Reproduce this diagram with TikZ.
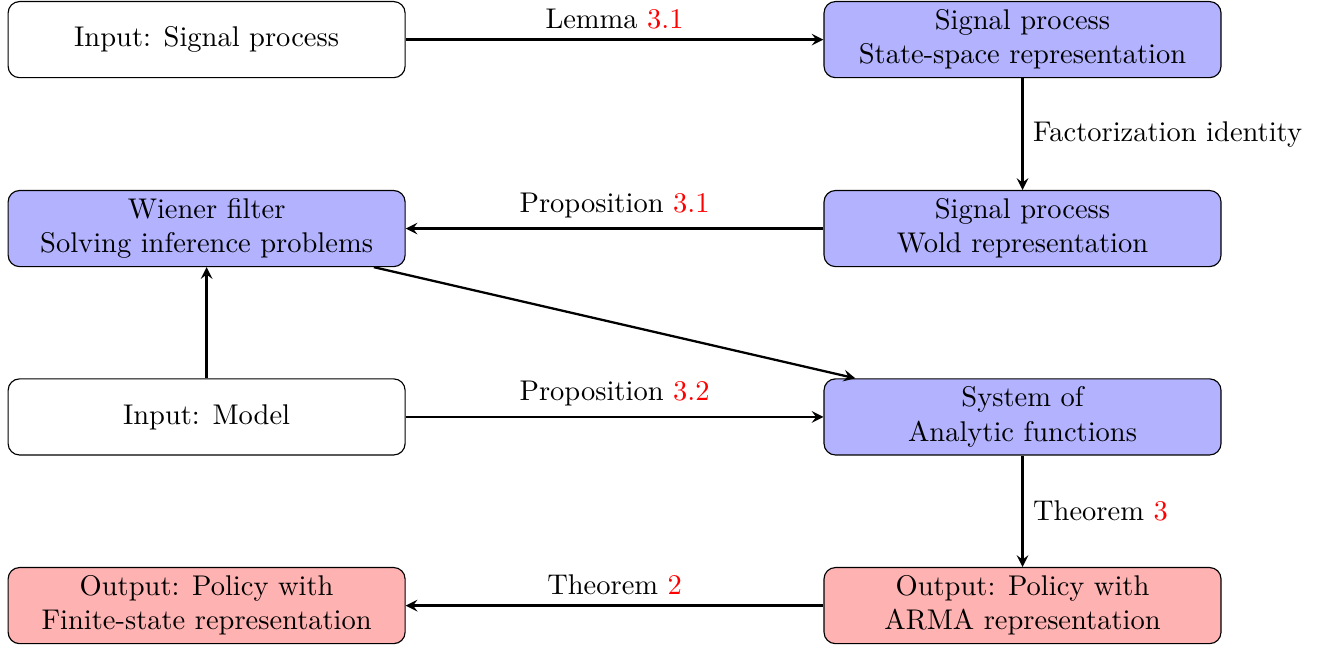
\documentclass[tikz,border=0pt]{standalone}
\usetikzlibrary{arrows.meta}
\begin{document}
\begin{tikzpicture}[
  box/.style={draw, rounded corners=4pt, minimum width=139.3pt, minimum height=26.7pt, align=center, inner sep=2pt},
  bluebox/.style={box, fill=blue!30},
  redbox/.style={box, fill=red!30},
  conn/.style={-stealth, thick},
  ref/.style={text=red}
]
\useasboundingbox (0,0) rectangle (468.8pt,-227.4pt);
\node[box] (in1) at (72.5pt,-13.9pt) {Input: Signal process};
\node[bluebox] (ss) at (358.8pt,-13.9pt) {Signal process\\State-space representation};
\node[bluebox] (wiener) at (72.5pt,-80.2pt) {Wiener filter\\Solving inference problems};
\node[bluebox] (wold) at (358.8pt,-80.2pt) {Signal process\\Wold representation};
\node[box] (model) at (72.5pt,-146.3pt) {Input: Model};
\node[bluebox] (sys) at (358.8pt,-146.3pt) {System of\\Analytic functions};
\node[redbox] (outF) at (72.5pt,-212.5pt) {Output: Policy with\\Finite-state representation};
\node[redbox] (outA) at (358.8pt,-212.5pt) {Output: Policy with\\ARMA representation};

\draw[conn] (in1) -- node[above] {Lemma \textcolor{red}{3.1}} (ss);
\draw[conn] (ss) -- node[right] {Factorization identity} (wold);
\draw[conn] (wold) -- node[above] {Proposition \textcolor{red}{3.1}} (wiener);
\draw[conn] (wiener) -- (sys);
\draw[conn] (model) -- (wiener);
\draw[conn] (model) -- node[above] {Proposition \textcolor{red}{3.2}} (sys);
\draw[conn] (sys) -- node[right] {Theorem \textcolor{red}{3}} (outA);
\draw[conn] (outA) -- node[above] {Theorem \textcolor{red}{2}} (outF);
\end{tikzpicture}
\end{document}
